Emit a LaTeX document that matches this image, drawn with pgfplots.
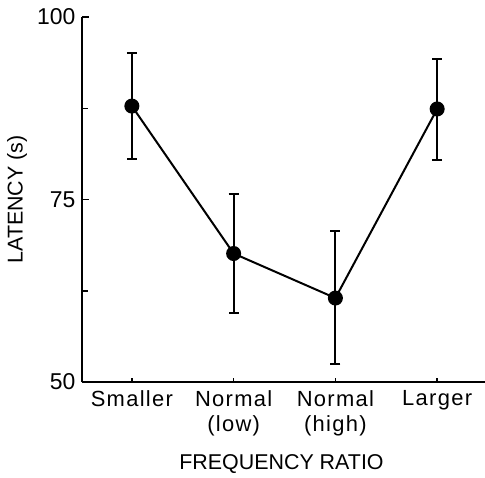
\documentclass[border=0pt]{standalone}
\usepackage{fontspec}
\setmainfont{Liberation Sans}
\newfontfamily\tickfont[LetterSpace=6]{Liberation Sans}
\usepackage{pgfplots}
\pgfplotsset{compat=1.18}
\begin{document}
\begin{tikzpicture}
\path[use as bounding box] (-82bp,-96bp) rectangle (403bp,382bp);
\begin{axis}[
  at={(0,0)}, anchor=south west,
  scale only axis,
  width=403bp, height=365bp,
  xmin=-0.49, xmax=3.47,
  ymin=50, ymax=100,
  axis x line=bottom, axis y line=left,
  axis line style={-, line width=1.8bp},
  xtick={0,1,2,3},
  xticklabels={Smaller, Normal\\(low), Normal\\(high), Larger},
  xticklabel style={align=center, anchor=north, font=\tickfont\fontsize{22}{25}\selectfont, yshift=-5bp},
  ytick={50,75,100},
  minor ytick={62.5,87.5},
  tick align=inside,
  major tick length=7bp, minor tick length=6bp,
  xtick style={/pgfplots/major tick length=4.5bp},
  tick style={line width=1.5bp, black},
  yticklabel style={font=\fontsize{23}{23}\selectfont, xshift=-3bp},
  ylabel={LATENCY (s)},
  xlabel={FREQUENCY RATIO},
  ylabel style={at={(axis description cs:-0.161,0.5)}, anchor=center, rotate=0},
  xlabel style={at={(axis description cs:0.495,-0.2247)}, anchor=center},
  label style={font=\fontsize{21.5}{22}\selectfont},
  /pgf/number format/assume math mode=true,
]
\addplot[black, line width=2bp, mark=*, mark size=6.5bp,
  error bars/.cd, y dir=both, y explicit,
  error bar style={line width=2bp},
  error mark options={rotate=90, mark size=5bp, line width=2bp}]
  coordinates {
  (0,87.8) += (0,7.3) -= (0,7.3)
  (1,67.6) += (0,8.2) -= (0,8.1)
  (2,61.5) += (0,9.2) -= (0,9.0)
  (3,87.4) += (0,6.9) -= (0,7.0)
};
\end{axis}
\end{tikzpicture}
\end{document}
